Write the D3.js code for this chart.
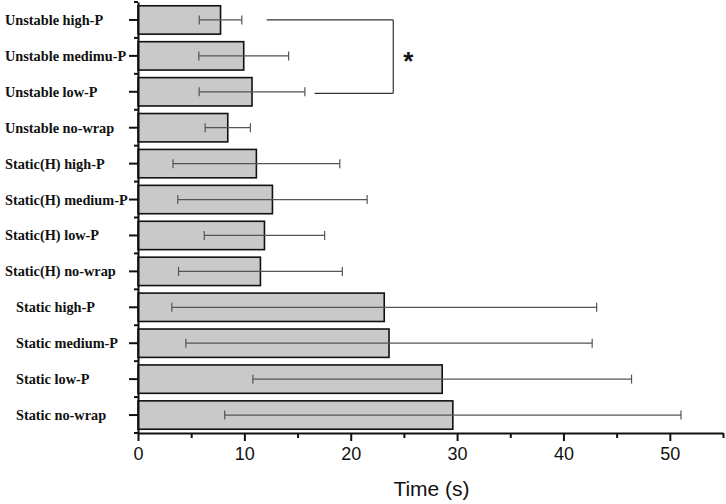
<!DOCTYPE html>
<html>
<head>
<meta charset="utf-8">
<script src="https://cdn.jsdelivr.net/npm/d3@7"></script>
<style>
  body { margin: 0; background: #fff; }
  svg { display: block; }
</style>
</head>
<body>
<div id="chart"></div>
<script>
// categories, top to bottom
const categories = [
  'Unstable high-P', 'Unstable medimu-P', 'Unstable low-P', 'Unstable no-wrap',
  'Static(H) high-P', 'Static(H) medium-P', 'Static(H) low-P', 'Static(H) no-wrap',
  'Static high-P', 'Static medium-P', 'Static low-P', 'Static no-wrap',
];
// mean time (s) and error (s)
const means = [7.76, 9.94, 10.72, 8.44, 11.13, 12.64, 11.89, 11.51, 23.15, 23.6, 28.6, 29.6];
const errors = [2.0, 4.22, 4.97, 2.13, 7.84, 8.9, 5.66, 7.7, 19.97, 19.1, 17.8, 21.45];

const majorTicks = [0, 10, 20, 30, 40, 50];
const minorTicks = [5, 15, 25, 35, 45, 55];
const xLabel = 'Time (s)';

// significance bracket: rows, line starts (top, bottom) and end, star label
const bracketRows = ['Unstable high-P', 'Unstable low-P'];
const bracketStarts = [12.1, 16.6];
const bracketEnd = 24;
const bracketLabel = '*';

const W = 726;
const H = 504;
const margin = { top: 2, right: 3, bottom: 71, left: 138 };

const svg = d3.select('#chart')
  .append('svg')
  .attr('width', W)
  .attr('height', H);

const x = d3.scaleLinear()
  .domain([0, 55])
  .range([margin.left, W - margin.right]);

const y = d3.scaleBand()
  .domain(categories)
  .range([margin.top, H - margin.bottom])
  .paddingInner(0.21)
  .paddingOuter(0.105);

const cy = d => y(d) + y.bandwidth() / 2;

// bars
svg.append('g')
  .selectAll('rect')
  .data(categories)
  .join('rect')
  .attr('x', x(0))
  .attr('y', d => y(d))
  .attr('width', (d, i) => x(means[i]) - x(0))
  .attr('height', y.bandwidth())
  .attr('fill', '#c9c9c9')
  .attr('stroke', '#111')
  .attr('stroke-width', 1.6);

// error bars
const err = svg.append('g')
  .attr('stroke', '#555')
  .attr('stroke-width', 1.2)
  .attr('fill', 'none');

categories.forEach((c, i) => {
  const lo = x(means[i] - errors[i]);
  const hi = x(means[i] + errors[i]);
  const yy = cy(c);
  err.append('line').attr('x1', lo).attr('x2', hi).attr('y1', yy).attr('y2', yy);
  [lo, hi].forEach((px) => {
    err.append('line').attr('x1', px).attr('x2', px).attr('y1', yy - 4.5).attr('y2', yy + 4.5);
  });
});

// x axis
const xAxis = svg.append('g')
  .attr('transform', `translate(0, ${H - margin.bottom})`)
  .call(d3.axisBottom(x).tickValues(majorTicks).tickSize(8).tickSizeOuter(0).tickPadding(6));

xAxis.select('.domain').attr('stroke-width', 2).attr('stroke', '#111');
xAxis.selectAll('.tick line').attr('stroke-width', 2).attr('stroke', '#111');
xAxis.selectAll('.tick text')
  .attr('font-family', '"Liberation Sans", Arial, sans-serif')
  .attr('font-size', 18)
  .attr('fill', '#111');

svg.append('g')
  .attr('transform', `translate(0, ${H - margin.bottom})`)
  .call(d3.axisBottom(x).tickValues(minorTicks).tickSize(5).tickSizeOuter(0).tickFormat(''))
  .call(g => g.select('.domain').remove())
  .selectAll('.tick line')
  .attr('stroke-width', 2)
  .attr('stroke', '#111');

// y axis
const yAxis = svg.append('g')
  .attr('transform', `translate(${margin.left}, 0)`)
  .call(d3.axisLeft(y).tickSize(9).tickSizeOuter(0).tickFormat(''));

yAxis.select('.domain').attr('stroke-width', 2).attr('stroke', '#111');
yAxis.selectAll('.tick line').attr('stroke-width', 2).attr('stroke', '#111');

// minor ticks at category boundaries
svg.append('g')
  .selectAll('line')
  .data(d3.range(categories.length + 1))
  .join('line')
  .attr('x1', margin.left - 4)
  .attr('x2', margin.left)
  .attr('y1', i => y.range()[0] + i * y.step())
  .attr('y2', i => y.range()[0] + i * y.step())
  .attr('stroke', '#111')
  .attr('stroke-width', 2);

// category labels
svg.append('g')
  .selectAll('text')
  .data(categories)
  .join('text')
  .attr('x', d => (d.startsWith('Static ') ? 16 : 5))
  .attr('y', d => cy(d))
  .attr('dy', '0.35em')
  .attr('font-family', '"Liberation Serif", "Times New Roman", serif')
  .attr('font-weight', 'bold')
  .attr('font-size', 14.3)
  .attr('fill', '#111')
  .text(d => d);

// x label
svg.append('text')
  .attr('x', (x(0) + x(55)) / 2 + 1)
  .attr('y', 496)
  .attr('text-anchor', 'middle')
  .attr('font-family', '"Liberation Sans", Arial, sans-serif')
  .attr('font-size', 21)
  .attr('fill', '#111')
  .text(xLabel);

// significance bracket
const br = svg.append('g')
  .attr('stroke', '#333')
  .attr('stroke-width', 1.2)
  .attr('fill', 'none');

bracketRows.forEach((r, i) => {
  br.append('line')
    .attr('x1', x(bracketStarts[i]))
    .attr('x2', x(bracketEnd))
    .attr('y1', cy(r) + i * 1.5)
    .attr('y2', cy(r) + i * 1.5);
});
br.append('line')
  .attr('x1', x(bracketEnd))
  .attr('x2', x(bracketEnd))
  .attr('y1', cy(bracketRows[0]))
  .attr('y2', cy(bracketRows[1]) + 1.5);

svg.append('text')
  .attr('x', x(bracketEnd) + 15)
  .attr('y', (cy(bracketRows[0]) + cy(bracketRows[1])) / 2 + 14)
  .attr('text-anchor', 'middle')
  .attr('font-family', '"Liberation Sans", Arial, sans-serif')
  .attr('font-weight', 'bold')
  .attr('font-size', 26)
  .attr('fill', '#111')
  .text(bracketLabel);
</script>
</body>
</html>
